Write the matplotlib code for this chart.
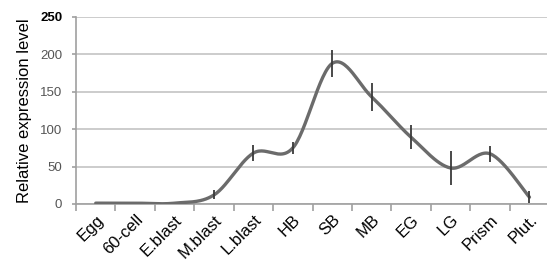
import matplotlib.pyplot as plt
import numpy as np

plt.rcParams['font.family'] = ['Liberation Sans', 'DejaVu Sans']

stages = ['Egg', '60-cell', 'E.blast', 'M.blast', 'L.blast', 'HB', 'SB', 'MB', 'EG', 'LG', 'Prism', 'Plut.']
expression = [1, 1, 1, 12, 68, 75, 188, 143, 89, 48, 67, 9]
errors = [0, 0, 0, 6, 11, 8, 18, 19, 16, 23, 11, 8]
yticks = [0, 50, 100, 150, 200, 250]


def smooth(x, y, steps=30):
    # Catmull-Rom style smoothing like a spreadsheet "smoothed line"
    x = np.asarray(x, float)
    y = np.asarray(y, float)
    px = np.concatenate([[x[0]], x, [x[-1]]])
    py = np.concatenate([[y[0]], y, [y[-1]]])
    xs, ys = [], []
    for i in range(1, len(px) - 2):
        t = np.linspace(0, 1, steps)
        for p, out in ((px, xs), (py, ys)):
            p0, p1, p2, p3 = p[i - 1], p[i], p[i + 1], p[i + 2]
            m1 = (p2 - p0) / 2
            m2 = (p3 - p1) / 2
            h00 = 2 * t**3 - 3 * t**2 + 1
            h10 = t**3 - 2 * t**2 + t
            h01 = -2 * t**3 + 3 * t**2
            h11 = t**3 - t**2
            out.extend(h00 * p1 + h10 * m1 + h01 * p2 + h11 * m2)
    return np.array(xs), np.array(ys)


fig = plt.figure(figsize=(5.47, 2.69), dpi=100)
ax = fig.add_axes([0.139, 0.242, 0.865, 0.695])

pos = np.arange(len(stages))
sx, sy = smooth(pos, expression)
ax.plot(sx, sy, color='#6b6b6b', lw=2.4, solid_capstyle='round', zorder=3)
ax.errorbar(pos, expression, yerr=errors, fmt='none', ecolor='#3a3a3a', elinewidth=1.3, capsize=0, zorder=4)

ax.set_xlim(-0.5, len(stages) - 0.5)
ax.set_ylim(0, 250)
ax.set_yticks(yticks)
ax.set_yticklabels([str(v) for v in yticks])
ax.yaxis.grid(True, color='#c4c4c4', lw=1.2)
ax.set_axisbelow(True)

ax.set_xticks(pos)
ax.set_xticklabels(stages, rotation=45, ha='right', rotation_mode='anchor', fontsize=12)
ax.set_xticks(np.arange(len(stages) + 1) - 0.5, minor=True)
ax.tick_params(axis='x', which='major', length=0, pad=6)
ax.tick_params(axis='x', which='minor', length=5, color='#a0a0a0', width=1.2)
ax.tick_params(axis='y', length=3, color='#a0a0a0', width=1.2, labelsize=9.5, labelcolor='#555555', pad=7)
for lab in ax.get_yticklabels():
    if lab.get_text() == '250':
        lab.set_fontweight('bold')
        lab.set_color('black')

for s in ['top', 'right']:
    ax.spines[s].set_visible(False)
for s in ['left', 'bottom']:
    ax.spines[s].set_color('#a0a0a0')
    ax.spines[s].set_linewidth(1.2)

ax.set_ylabel('Relative expression level', fontsize=12, labelpad=6)

fig.savefig('out.png', dpi=100)
